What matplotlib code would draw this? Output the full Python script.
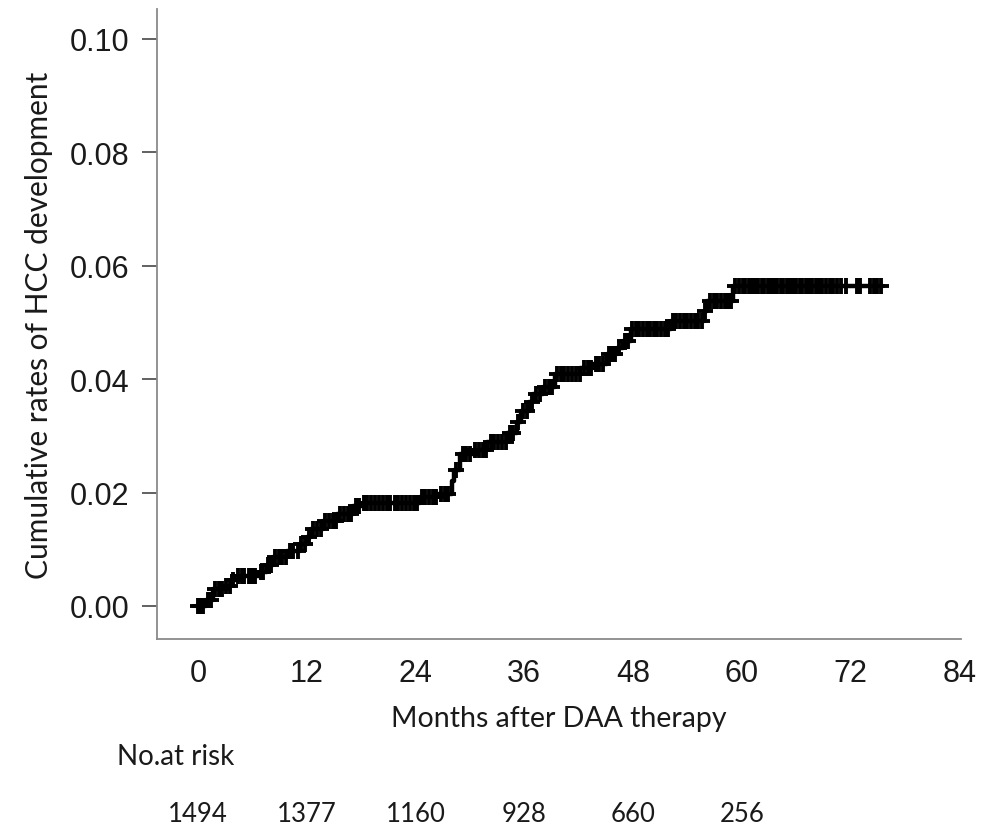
import matplotlib
matplotlib.use("Agg")
import matplotlib.pyplot as plt

# Cumulative HCC incidence after DAA therapy (step function)
event_months = [0.0, 0.9, 1.7, 2.8, 3.6, 4.3, 6.8, 7.6, 8.3, 9.8, 11.3, 12.0, 12.5,
                13.8, 15.3, 17.1, 18.2, 24.5, 26.4, 28.0, 28.3, 28.9, 30.4, 31.9,
                34.1, 35.2, 35.6, 36.5, 37.0, 38.1, 39.4, 42.2, 43.6, 45.1, 46.2,
                46.9, 47.8, 52.2, 55.8, 56.2, 59.0]
cum_rate = [0.0, 0.0011, 0.0030, 0.0036, 0.0045, 0.0053, 0.0060, 0.0072, 0.0086,
            0.0097, 0.0109, 0.0122, 0.0136, 0.0150, 0.0162, 0.0176, 0.0182, 0.0192,
            0.0198, 0.0220, 0.0240, 0.0268, 0.0275, 0.0289, 0.0305, 0.0325, 0.0344,
            0.0360, 0.0374, 0.0386, 0.0409, 0.0419, 0.0427, 0.0444, 0.0455, 0.0468,
            0.0489, 0.0503, 0.0520, 0.0538, 0.0564]
last_follow_up = 75.4

# Censored observations (months)
censor_months = [
    0.2, 0.6, 1.1, 1.4, 1.9, 2.3, 2.6, 3.1, 3.5, 3.9, 4.4, 4.8, 5.1, 5.6, 6.0, 6.3,
    6.9, 7.2, 7.7, 8.0, 8.5, 8.9, 9.3, 9.7, 10.2, 10.5, 11.0, 11.4, 11.8,
    12.3, 12.7, 13.1, 13.6, 14.0, 14.4, 14.9, 15.2, 15.7, 16.1, 16.5, 16.9, 17.4,
    17.8, 18.3, 18.7, 19.1, 19.5, 20.0, 20.4, 20.8, 21.2, 21.7, 22.1, 22.5, 22.9,
    23.4, 23.8,
    24.2, 24.7, 25.1, 25.5, 25.9, 26.3, 26.8, 27.2, 27.6, 28.5, 29.2, 29.6, 30.0,
    30.6, 31.0, 31.4, 31.8, 32.3, 32.7, 33.1, 33.5, 34.0, 34.4, 34.8, 35.3, 35.9,
    36.3, 36.8, 37.3, 37.7, 38.3, 38.7, 39.1, 39.6, 40.0, 40.4, 40.8, 41.3, 41.7,
    42.1, 42.6, 43.0, 43.4, 43.9, 44.3, 44.7, 45.3, 45.7, 46.0, 46.5, 47.1, 47.5,
    47.9,
    48.3, 48.7, 49.1, 49.5, 49.9, 50.3, 50.7, 51.1, 51.5, 51.9, 52.4, 52.8, 53.2,
    53.6, 54.0, 54.4, 54.8, 55.2, 55.6, 56.0, 56.5, 56.9, 57.3, 57.7, 58.1, 58.5,
    58.8, 59.3, 59.7,
    60.1, 60.4, 60.8, 61.1, 61.5, 61.8, 62.2, 62.5, 62.9, 63.2, 63.6, 63.9, 64.3,
    64.6, 65.0, 65.3, 65.7, 66.0, 66.4, 66.7, 67.1, 67.4, 67.8, 68.2, 68.5, 68.9,
    69.3, 69.7, 70.1,
    70.5, 71.0, 71.5, 72.7, 73.1, 74.2, 74.6, 74.9, 75.4]

x_ticks = [0, 12, 24, 36, 48, 60, 72, 84]
y_ticks = [0.00, 0.02, 0.04, 0.06, 0.08, 0.10]
y_tick_labels = ["0.00", "0.02", "0.04", "0.06", "0.08", "0.10"]

risk_months = [0, 12, 24, 36, 48, 60]
n_at_risk = [1494, 1377, 1160, 928, 660, 256]

fig = plt.figure(figsize=(9.88, 8.28), dpi=100)
ax = fig.add_axes([0.1589, 0.2271, 0.8138, 0.7609])

# step curve
xs = list(event_months) + [last_follow_up]
ys = list(cum_rate) + [cum_rate[-1]]
ax.step(xs, ys, where="post", color="black", lw=3.2, zorder=3)


def rate_at(t):
    r = 0.0
    for tm, v in zip(event_months, cum_rate):
        if tm <= t:
            r = v
    return r


cx = [0.0] + censor_months
cy = [rate_at(t) for t in cx]
ax.plot(cx, cy, ls="none", marker="+", ms=11.5, mew=2.8, color="black", zorder=4)

ax.set_xlim(-4.53, 84.2)
ax.set_ylim(-0.00582, 0.1053)

for side in ("top", "right"):
    ax.spines[side].set_visible(False)
for side in ("left", "bottom"):
    ax.spines[side].set_color("#8a8a8a")
    ax.spines[side].set_linewidth(1.3)

ax.set_xticks(x_ticks)
ax.set_xticklabels([str(t) for t in x_ticks], fontfamily="Liberation Sans", fontsize=22)
ax.set_yticks(y_ticks)
ax.set_yticklabels(y_tick_labels, fontfamily="Liberation Sans", fontsize=22)
ax.tick_params(axis="x", length=0, pad=14, colors="#1a1a1a")
ax.tick_params(axis="y", length=11, width=1.3, color="#555555", pad=9, labelcolor="#1a1a1a")

ax.set_xlabel("Months after DAA therapy", fontfamily="Lato", fontsize=20.5,
              labelpad=12, color="#1a1a1a")
ax.set_ylabel("Cumulative rates of HCC development", fontfamily="Lato",
              fontsize=21.5, labelpad=12, color="#1a1a1a")

# number-at-risk table
tr = ax.get_xaxis_transform()
fig.text(117 / 988, 1 - 757 / 828, "No.at risk", fontfamily="Lato", fontsize=20,
         ha="left", va="center", color="#1a1a1a")
for m, n in zip(risk_months, n_at_risk):
    ax.text(m, -(815 - 640) / (640 - 10), str(n), transform=tr, fontfamily="Lato",
            fontsize=18.5, ha="center", va="center", color="#1a1a1a", clip_on=False)

fig.savefig("out.png", dpi=100)
